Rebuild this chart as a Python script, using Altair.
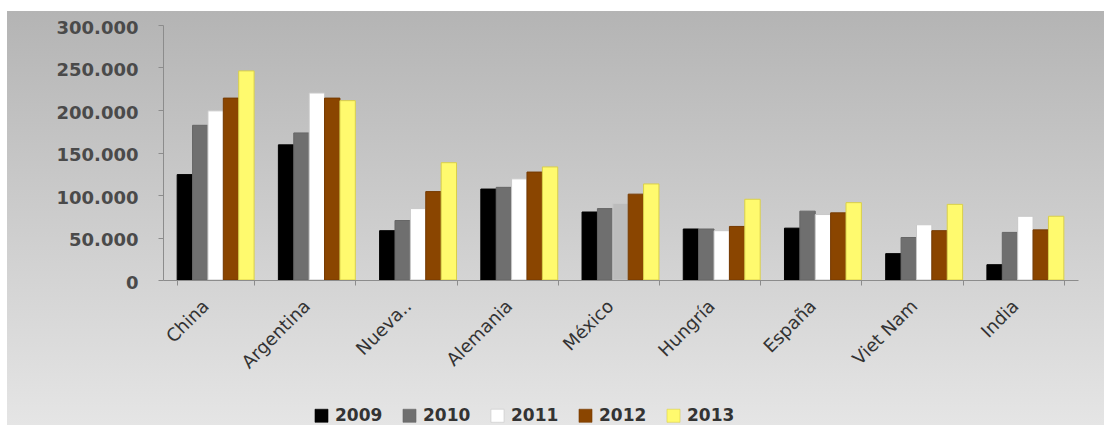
import altair as alt
import pandas as pd

# Countries and yearly values
countries = ["China", "Argentina", "Nueva..", "Alemania", "México",
             "Hungría", "España", "Viet Nam", "India"]
years = ["2009", "2010", "2011", "2012", "2013"]
v2009 = [124000, 159000, 58000, 107000, 80000, 60000, 61000, 31000, 18000]
v2010 = [182000, 173000, 70000, 109000, 84000, 60000, 81000, 50000, 56000]
v2011 = [199000, 220000, 84000, 119000, 90000, 58000, 77000, 65000, 75000]
v2012 = [214000, 214000, 104000, 127000, 101000, 63000, 79000, 58000, 59000]
v2013 = [246000, 211000, 138000, 133000, 113000, 95000, 91000, 89000, 75000]
y_ticks = [0, 50000, 100000, 150000, 200000, 250000, 300000]

fill_colors = ["#000000", "#6f6f6f", "#ffffff", "#8a4500", "#fffa6e"]
edge_colors = ["#000000", "#666666", "#c8c8c8", "#763a00", "#d9cf4a"]

series = [v2009, v2010, v2011, v2012, v2013]
rows = []
for year, vals in zip(years, series):
    for country, v in zip(countries, vals):
        rows.append({"country": country, "year": year, "value": v})
df = pd.DataFrame(rows)

W, H = 915, 255
FONT = "DejaVu Sans"

# Shaded panel behind the whole chart
panel = alt.Chart(pd.DataFrame({"panel": ["fondo"]})).mark_rect(
    color=alt.Gradient(
        gradient="linear",
        stops=[alt.GradientStop(color="#b4b4b4", offset=0),
               alt.GradientStop(color="#e5e5e5", offset=1)],
        x1=0, x2=0, y1=0, y2=1,
    )
).encode(
    x=alt.value(-156), x2=alt.value(941),
    y=alt.value(-14), y2=alt.value(400),
)

bars = alt.Chart(df).mark_bar(strokeWidth=1).encode(
    x=alt.X(
        "country:N", sort=countries, title=None,
        scale=alt.Scale(paddingInner=0.24, paddingOuter=0.14),
        axis=alt.Axis(
            labelAngle=315, labelFont=FONT, labelFontSize=18,
            labelColor="#333333", labelPadding=12, labelOffset=-16,
            tickBand="extent", tickSize=5, tickColor="#8c8c8c",
            domainColor="#8c8c8c", zindex=1, grid=False,
        ),
    ),
    xOffset=alt.XOffset("year:N", sort=years),
    y=alt.Y(
        "value:Q", title=None,
        scale=alt.Scale(domain=[0, 300000], nice=False),
        axis=alt.Axis(
            values=y_ticks,
            labelExpr="replace(format(datum.value, ','), ',', '.')",
            labelFont=FONT, labelFontSize=18, labelFontWeight="bold",
            labelColor="#4a4a4a", labelPadding=20, labelOffset=3,
            tickSize=5, tickColor="#8c8c8c", domainColor="#8c8c8c",
            zindex=1, grid=False,
        ),
    ),
    color=alt.condition(
        (alt.datum.country == "México") & (alt.datum.year == "2011"),
        alt.value("#bcbcbc"),
        alt.Color(
            "year:N", sort=years,
            scale=alt.Scale(domain=years, range=fill_colors),
            legend=alt.Legend(
                title=None, orient="none", direction="horizontal",
                legendX=150, legendY=382,
                symbolType="square", symbolSize=170,
                symbolStrokeColor="#8f8f8f", symbolStrokeWidth=0.6,
                labelFont=FONT, labelFontSize=17, labelFontWeight="bold",
                labelColor="#333333", labelOffset=5, columnPadding=18,
                zindex=1,
            ),
        ),
    ),
    stroke=alt.Stroke(
        "year:N", sort=years,
        scale=alt.Scale(domain=years, range=edge_colors),
        legend=None,
    ),
)

chart = alt.layer(panel, bars).properties(
    width=W,
    height=H,
    padding={"left": 163, "top": 25, "right": 26, "bottom": 148},
    autosize=alt.AutoSizeParams(type="none"),
    background="#ffffff",
).configure_view(stroke=None)

chart.save("out.html", embed_options={"renderer": "svg", "actions": False})
